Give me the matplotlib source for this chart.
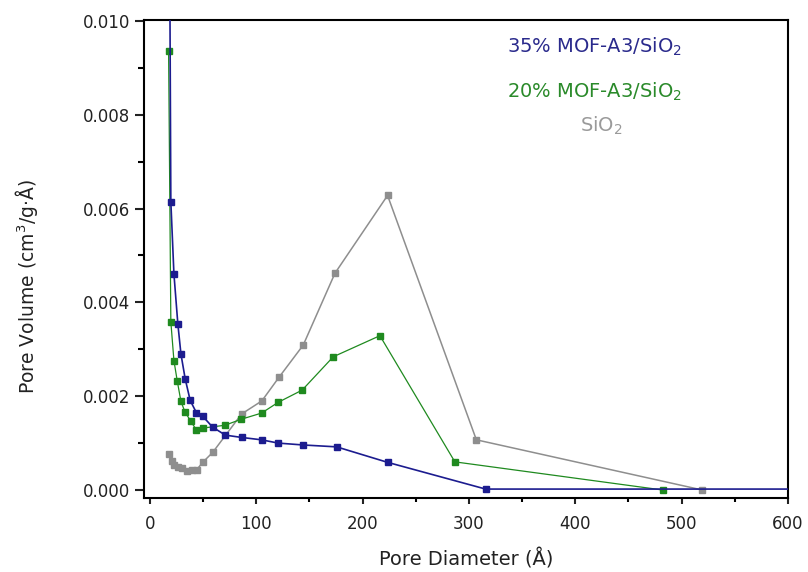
import matplotlib
matplotlib.use("Agg")
import matplotlib.pyplot as plt
from matplotlib.ticker import MultipleLocator, FormatStrFormatter

# Pore size distributions (BJH) -- pore diameter in Å, pore volume in cm3/(g·Å)
d_35 = [18.8, 19.7, 22.6, 26.3, 29.2, 33.2, 37.9, 43.7, 49.8, 59.0, 71.0, 86.5,
        105.0, 120.7, 144.2, 175.6, 223.5, 315.7, 650.0]
v_35 = [0.0106, 0.00615, 0.00461, 0.00354, 0.00290, 0.00237, 0.00191, 0.00165,
        0.00157, 0.00134, 0.00117, 0.00112, 0.00107, 0.00100, 0.00096, 0.00092,
        0.00059, 0.00002, 0.00002]

d_20 = [17.6, 19.7, 22.6, 25.7, 29.2, 32.9, 38.3, 43.5, 49.6, 70.5, 86.1, 105.0,
        120.7, 143.2, 172.4, 216.3, 286.8, 482.2]
v_20 = [0.00935, 0.00359, 0.00276, 0.00233, 0.00189, 0.00167, 0.00147, 0.00129,
        0.00132, 0.00138, 0.00151, 0.00164, 0.00187, 0.00213, 0.00284, 0.00329,
        0.00060, 0.00000]

d_si = [17.9, 20.4, 22.9, 26.6, 30.4, 34.5, 39.2, 43.9, 50.1, 59.0, 86.2, 105.3,
        121.3, 144.2, 174.0, 223.5, 307.0, 519.5]
v_si = [0.00077, 0.00062, 0.00053, 0.00050, 0.00046, 0.00041, 0.00043, 0.00043,
        0.00060, 0.00080, 0.00162, 0.00190, 0.00240, 0.00309, 0.00462, 0.00628,
        0.00107, 0.00000]

labels = ["35% MOF-A3/SiO$_2$", "20% MOF-A3/SiO$_2$", "SiO$_2$"]

c_35 = "#1c1c8f"
c_20 = "#1f8a1f"
c_si = "#8e8e8e"

plt.rcParams["font.family"] = ["DejaVu Sans"]
plt.rcParams["mathtext.fontset"] = "dejavusans"

fig = plt.figure(figsize=(8.08, 5.72), dpi=100)
ax = fig.add_axes([0.1776, 0.1294, 0.7976, 0.8356])

ax.plot(d_si, v_si, color=c_si, lw=1.1, marker="s", ms=4.3, mec=c_si, mfc=c_si, zorder=2)
ax.plot(d_20, v_20, color=c_20, lw=0.9, marker="s", ms=4.3, mec=c_20, mfc=c_20, zorder=3)
ax.plot(d_35, v_35, color=c_35, lw=1.2, marker="s", ms=4.3, mec=c_35, mfc=c_35, zorder=4)

ax.set_xlim(-6, 600)
ax.set_ylim(-0.00017, 0.01002)

ax.xaxis.set_major_locator(MultipleLocator(100))
ax.xaxis.set_minor_locator(MultipleLocator(50))
ax.yaxis.set_major_locator(MultipleLocator(0.002))
ax.yaxis.set_minor_locator(MultipleLocator(0.001))
ax.yaxis.set_major_formatter(FormatStrFormatter("%.3f"))

for s in ax.spines.values():
    s.set_linewidth(1.5)

ax.tick_params(axis="x", which="major", direction="out", length=4.3, width=1.5,
               labelsize=12, pad=8, colors="#222222")
ax.tick_params(axis="x", which="minor", direction="out", length=2.7, width=1.5)
ax.tick_params(axis="y", which="major", direction="out", length=6.5, width=1.5,
               labelsize=12, pad=3, colors="#222222")
ax.tick_params(axis="y", which="minor", direction="out", length=4.3, width=1.5)

ax.set_xlabel("Pore Diameter (Å)", fontsize=14, labelpad=11, color="#222222")
ax.set_ylabel("Pore Volume (cm$^3$/g·Å)", fontsize=13.5, color="#222222")
ax.yaxis.set_label_coords(-0.16, 0.4425)

ax.text(0.700, 0.944, labels[0], transform=ax.transAxes, ha="center", va="center",
        fontsize=14, color="#2a2a8c")
ax.text(0.700, 0.850, labels[1], transform=ax.transAxes, ha="center", va="center",
        fontsize=14, color="#2a8a2a")
ax.text(0.711, 0.778, labels[2], transform=ax.transAxes, ha="center", va="center",
        fontsize=14, color="#9a9a9a")

fig.savefig("out.png", dpi=100)
